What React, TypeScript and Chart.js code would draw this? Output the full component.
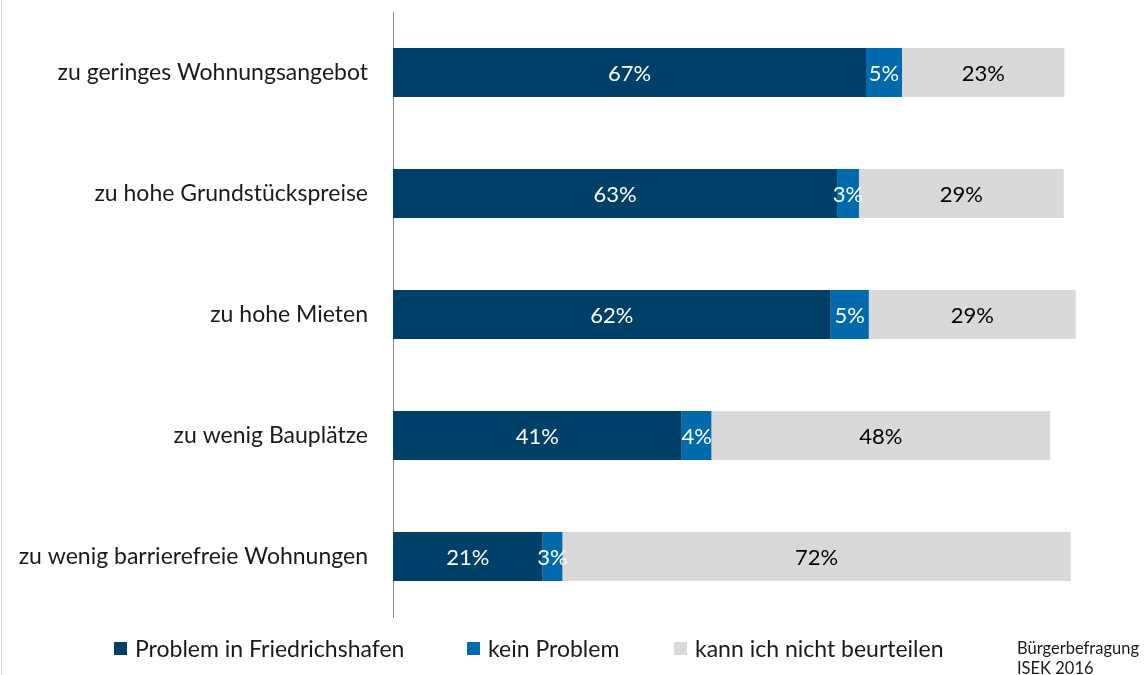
import React, { useEffect, useRef } from "react";
import { Chart, registerables } from "chart.js";

Chart.register(...registerables);

const categories = [
  "zu geringes Wohnungsangebot",
  "zu hohe Grundstückspreise",
  "zu hohe Mieten",
  "zu wenig Bauplätze",
  "zu wenig barrierefreie Wohnungen",
];
const seriesNames = ["Problem in Friedrichshafen", "kein Problem", "kann ich nicht beurteilen"];
const problem = [67.0, 62.9, 62.0, 40.9, 21.2];
const keinProblem = [5.1, 3.1, 5.4, 4.2, 2.8];
const nichtBeurteilen = [23.0, 29.0, 29.3, 48.0, 72.0];
const colors = ["#003F68", "#006AAC", "#D9D9D9"];
const labelColors = ["#FFFFFF", "#FFFFFF", "#000000"];
const sourceLines = ["Bürgerbefragung", "ISEK 2016"];

const FONT = "Lato, 'Open Sans', sans-serif";

const valueLabels = {
  id: "valueLabels",
  afterDatasetsDraw(chart: any) {
    const ctx = chart.ctx;
    ctx.save();
    ctx.font = `22px ${FONT}`;
    ctx.textAlign = "center";
    ctx.textBaseline = "middle";
    chart.data.datasets.forEach((ds: any, di: number) => {
      const meta = chart.getDatasetMeta(di);
      meta.data.forEach((bar: any, i: number) => {
        const v = ds.data[i];
        const cx = (bar.x + bar.base) / 2;
        ctx.fillStyle = labelColors[di];
        ctx.fillText(Math.round(v) + "%", cx, bar.y + 1);
      });
    });
    ctx.restore();
  },
};

export default function App() {
  const ref = useRef<HTMLCanvasElement>(null);
  useEffect(() => {
    const datasets = [problem, keinProblem, nichtBeurteilen].map((d, i) => ({
      label: seriesNames[i],
      data: d,
      backgroundColor: colors[i],
      borderWidth: 0,
      barPercentage: 0.81,
      categoryPercentage: 0.5,
    }));
    const chart = new Chart(ref.current!, {
      type: "bar",
      data: { labels: categories, datasets },
      options: {
        indexAxis: "y",
        animation: false,
        responsive: false,
        maintainAspectRatio: false,
        layout: { padding: { top: 12, right: 45, bottom: 58, left: 0 } },
        plugins: { legend: { display: false }, tooltip: { enabled: false } },
        scales: {
          x: { stacked: true, min: 0, max: 100, display: false },
          y: {
            stacked: true,
            grid: { display: false, drawTicks: false },
            border: { display: true, color: "#8C8C8C", width: 1 },
            ticks: { color: "#1A1A1A", font: { family: FONT, size: 23 }, padding: 25 },
            afterFit(scale: any) {
              scale.width = 393;
              scale.paddingTop = 0;
              scale.paddingBottom = 0;
            },
          },
        },
      },
      plugins: [valueLabels],
    });
    return () => chart.destroy();
  }, []);

  const boxLefts = [114, 467, 674];
  const legendItem = (i: number) => (
    <div
      key={i}
      style={{ position: "absolute", left: boxLefts[i], top: 634, display: "flex", alignItems: "center", height: 28 }}
    >
      <span style={{ width: 13, height: 13, background: colors[i], display: "inline-block", marginRight: 8 }} />
      <span style={{ fontSize: 23, color: "#1A1A1A", lineHeight: "28px" }}>{seriesNames[i]}</span>
    </div>
  );

  return (
    <div
      style={{
        position: "fixed",
        left: 0,
        top: 0,
        width: 1144,
        height: 675,
        background: "#fff",
        fontFamily: FONT,
        overflow: "hidden",
      }}
    >
      <div style={{ position: "absolute", left: 1, top: 0, width: 1, height: 675, background: "#D9D9D9" }} />
      <canvas ref={ref} width={1144} height={675} style={{ position: "absolute", left: 0, top: 0 }} />
      {legendItem(0)}
      {legendItem(1)}
      {legendItem(2)}
      <div
        style={{
          position: "absolute",
          left: 1017,
          top: 638,
          fontSize: 16.5,
          lineHeight: "20px",
          color: "#1A1A1A",
        }}
      >
        {sourceLines.map((l) => (
          <div key={l}>{l}</div>
        ))}
      </div>
    </div>
  );
}
